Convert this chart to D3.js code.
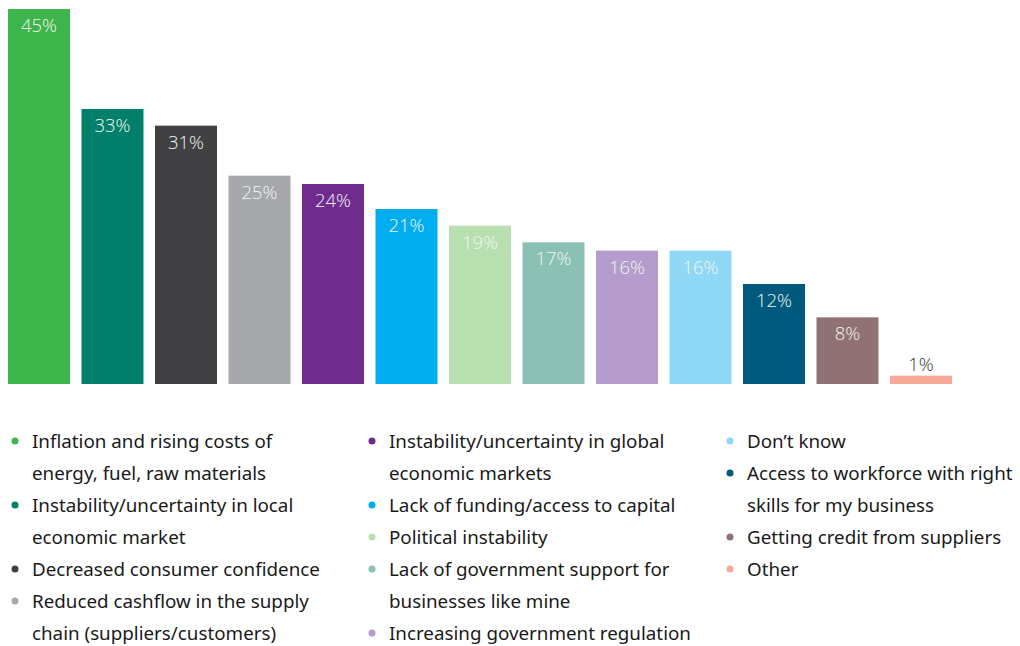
<!DOCTYPE html>
<html>
<head>
<meta charset="utf-8">
<script src="https://cdn.jsdelivr.net/npm/d3@7"></script>
<style>
  html, body { margin: 0; padding: 0; background: #fff; }
  svg { display: block; }
</style>
</head>
<body>
<svg id="chart" width="1020" height="646"></svg>
<script>
// Share of respondents citing each concern (%)
const categories = [
  "Inflation and rising costs of energy, fuel, raw materials",
  "Instability/uncertainty in local economic market",
  "Decreased consumer confidence",
  "Reduced cashflow in the supply chain (suppliers/customers)",
  "Instability/uncertainty in global economic markets",
  "Lack of funding/access to capital",
  "Political instability",
  "Lack of government support for businesses like mine",
  "Increasing government regulation",
  "Don\u2019t know",
  "Access to workforce with right skills for my business",
  "Getting credit from suppliers",
  "Other"
];
const values = [45, 33, 31, 25, 24, 21, 19, 17, 16, 16, 12, 8, 1];
const colors = [
  "#3db54a", "#00806a", "#414042", "#a7a8ac", "#702b8f", "#00aeef", "#b8dfb0",
  "#8ac1b4", "#b59ccc", "#8fd8f6", "#005a7d", "#917274", "#f7a999"
];
// Legend text broken into the lines it is set on
const legendLines = [
  ["Inflation and rising costs of", "energy, fuel, raw materials"],
  ["Instability/uncertainty in local", "economic market"],
  ["Decreased consumer confidence"],
  ["Reduced cashflow in the supply", "chain (suppliers/customers)"],
  ["Instability/uncertainty in global", "economic markets"],
  ["Lack of funding/access to capital"],
  ["Political instability"],
  ["Lack of government support for", "businesses like mine"],
  ["Increasing government regulation"],
  ["Don\u2019t know"],
  ["Access to workforce with right", "skills for my business"],
  ["Getting credit from suppliers"],
  ["Other"]
];
const legendColumns = [[0, 1, 2, 3], [4, 5, 6, 7, 8], [9, 10, 11, 12]];

const svg = d3.select("#chart");
const baseline = 384;

const x = d3.scaleBand()
  .domain(d3.range(values.length))
  .range([8, 952])
  .paddingInner(0.1565)
  .paddingOuter(0);

const y = d3.scaleLinear().domain([0, 45]).range([baseline, 9]);

const bars = svg.append("g");
bars.selectAll("rect")
  .data(values)
  .join("rect")
  .attr("x", (d, i) => x(i))
  .attr("y", d => y(d))
  .attr("width", x.bandwidth())
  .attr("height", d => baseline - y(d))
  .attr("fill", (d, i) => colors[i]);

bars.selectAll("text")
  .data(values)
  .join("text")
  .attr("x", (d, i) => x(i) + x.bandwidth() / 2)
  .attr("y", d => (baseline - y(d) > 30) ? y(d) + 23 : y(d) - 5)
  .attr("text-anchor", "middle")
  .attr("font-family", "'Open Sans', 'Segoe UI', sans-serif")
  .attr("font-weight", 300)
  .attr("font-size", 18.5)
  .attr("fill", d => (baseline - y(d) > 30) ? "#f0f7f0" : "#333")
  .text(d => d + "%");

// Legend in three columns
const colX = [15, 372, 730];
const lineH = 32;
const legend = svg.append("g")
  .attr("font-family", "'Noto Sans', Lato, sans-serif")
  .attr("font-size", 18.8)
  .attr("fill", "#1a1a1a");

legendColumns.forEach((col, c) => {
  let row = 0;
  col.forEach(idx => {
    const cy = 441 + row * lineH;
    legend.append("circle")
      .attr("cx", colX[c])
      .attr("cy", cy)
      .attr("r", 3.5)
      .attr("fill", colors[idx]);
    legendLines[idx].forEach((ln, k) => {
      legend.append("text")
        .attr("x", colX[c] + 17)
        .attr("y", cy + k * lineH + 6.5)
        .text(ln);
    });
    row += legendLines[idx].length;
  });
});
</script>
</body>
</html>
